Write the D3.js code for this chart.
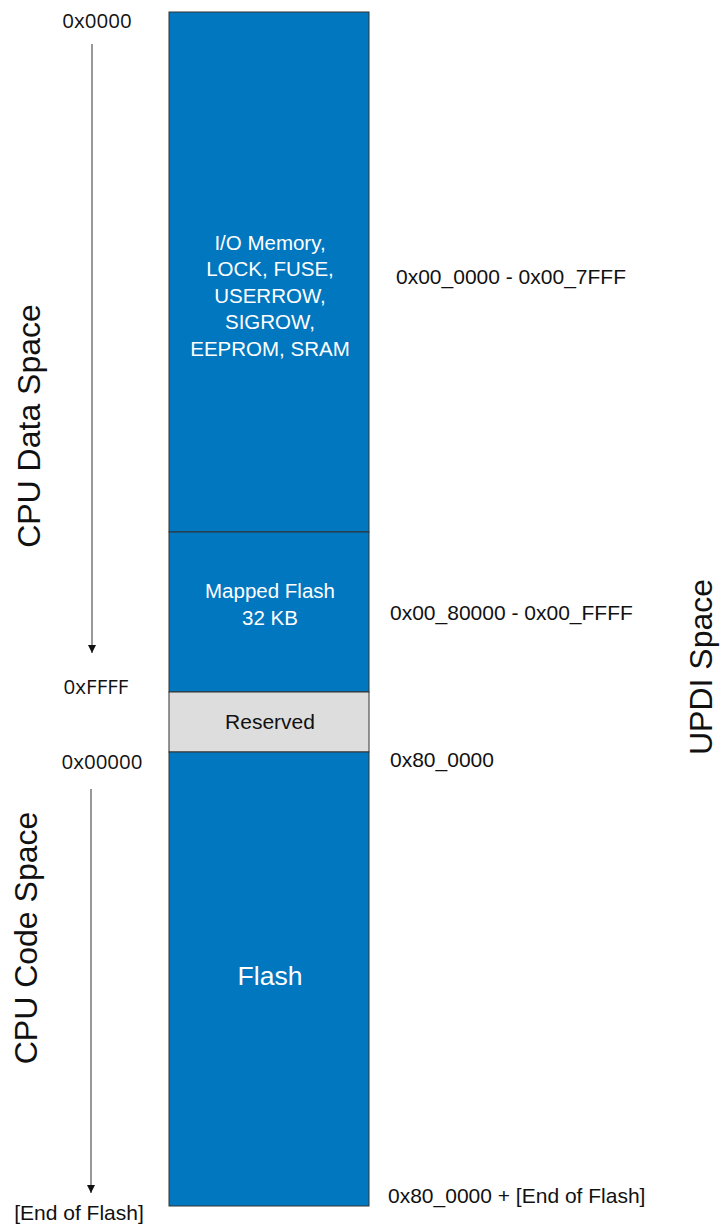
<!DOCTYPE html>
<html><head><meta charset="utf-8">
<script src="https://cdn.jsdelivr.net/npm/d3@7"></script>
<style>body{margin:0;background:#fff}svg{display:block}</style>
</head><body>
<script>
// ---- data ----
const segments = ["io", "mapped", "reserved", "flash"];
const segmentSpan = [520, 160, 60, 454];          // relative extent of each region
const segmentLines = [
  ["I/O Memory,", "LOCK, FUSE,", "USERROW,", "SIGROW,", "EEPROM, SRAM"],
  ["Mapped Flash", "32 KB"],
  ["Reserved"],
  ["Flash"]
];
const segmentFill = ["#0077BF", "#0077BF", "#DDDDDD", "#0077BF"];
const updiLabels = ["0x00_0000 - 0x00_7FFF", "0x00_80000 - 0x00_FFFF", "0x80_0000", "0x80_0000 + [End of Flash]"];
const cpuDataLabels = ["0x0000", "0xFFFF"];
const cpuCodeLabels = ["0x00000", "[End of Flash]"];
const spaceTitles = ["CPU Data Space", "CPU Code Space", "UPDI Space"];

const W = 721, H = 1224;
const svg = d3.select("body").append("svg").attr("width", W).attr("height", H);

const total = d3.sum(segmentSpan);
const starts = d3.cumsum([0, ...segmentSpan]);
const y = d3.scaleLinear().domain([0, total]).range([12, 1206]);
const x0 = 169, x1 = 369, cx = (x0 + x1) / 2;

// segments
const g = svg.append("g");
segments.forEach((s, i) => {
  const top = y(starts[i]), bot = y(starts[i + 1]);
  g.append("rect").attr("x", x0).attr("y", top).attr("width", x1 - x0).attr("height", bot - top)
    .attr("fill", segmentFill[i]).attr("stroke", "#333").attr("stroke-width", 1);
});
// text inside segments
const textFont = "'Liberation Sans', Arial, sans-serif";
const lineH = [26.5, 27, 0, 0];
const fsize = [20.5, 20.5, 21, 26.5];
segments.forEach((s, i) => {
  const mid = (y(starts[i]) + y(starts[i + 1])) / 2;
  const lines = segmentLines[i];
  let midY = mid;
  if (i === 0) midY = y(starts[0]) + 283; // block text sits slightly above centre
  if (i === 1) midY = y(starts[1]) + 72;
  if (i === 2) midY = mid - 1;
  if (i === 3) midY = y(starts[3]) + 224;
  const n = lines.length;
  lines.forEach((t, k) => {
    svg.append("text").attr("x", cx + 1).attr("y", midY + (k - (n - 1) / 2) * lineH[i])
      .attr("text-anchor", "middle").attr("dominant-baseline", "central")
      .attr("font-family", textFont).attr("font-size", fsize[i])
      .attr("fill", segmentFill[i] === "#DDDDDD" ? "#111" : "#fff").text(t);
  });
});

// UPDI labels on right
const updiX = [396, 390, 390, 388];
const updiY = [276, 612, 759, 1195];
updiLabels.forEach((t, i) => {
  svg.append("text").attr("x", updiX[i]).attr("y", updiY[i]).attr("dominant-baseline", "central")
    .attr("font-family", textFont).attr("font-size", 21).attr("fill", "#111").text(t);
});

// left addresses and arrows
const defs = svg.append("defs");
defs.append("marker").attr("id", "ah").attr("viewBox", "0 0 10 10").attr("refX", 10).attr("refY", 5)
  .attr("markerWidth", 8).attr("markerHeight", 8).attr("markerUnits", "userSpaceOnUse").attr("orient", "auto")
  .append("path").attr("d", "M0,0L10,5L0,10Z").attr("fill", "#111");

const addrFont = "'Open Sans', 'DejaVu Sans', sans-serif";
svg.append("text").attr("x", 97).attr("y", 20).attr("text-anchor", "middle").attr("dominant-baseline", "central")
  .attr("font-family", addrFont).attr("font-size", 20.5).attr("fill", "#111").text(cpuDataLabels[0]);
svg.append("text").attr("x", 96).attr("y", 686).attr("text-anchor", "middle").attr("dominant-baseline", "central")
  .attr("font-family", addrFont).attr("font-size", 20.5).attr("fill", "#111").text(cpuDataLabels[1]);
svg.append("text").attr("x", 102).attr("y", 761).attr("text-anchor", "middle").attr("dominant-baseline", "central")
  .attr("font-family", addrFont).attr("font-size", 20.5).attr("fill", "#111").text(cpuCodeLabels[0]);
svg.append("text").attr("x", 79).attr("y", 1212).attr("text-anchor", "middle").attr("dominant-baseline", "central")
  .attr("font-family", textFont).attr("font-size", 21).attr("fill", "#111").text(cpuCodeLabels[1]);

svg.append("line").attr("x1", 92).attr("y1", 44).attr("x2", 92).attr("y2", 653)
  .attr("stroke", "#333").attr("stroke-width", 1).attr("marker-end", "url(#ah)");
svg.append("line").attr("x1", 91).attr("y1", 789).attr("x2", 91).attr("y2", 1193)
  .attr("stroke", "#333").attr("stroke-width", 1).attr("marker-end", "url(#ah)");

// rotated titles
const titles = [[29, 426], [26, 938], [701, 667]];
spaceTitles.forEach((t, i) => {
  svg.append("text").attr("transform", `translate(${titles[i][0]},${titles[i][1]}) rotate(-90)`)
    .attr("text-anchor", "middle").attr("dominant-baseline", "central")
    .attr("font-family", textFont).attr("font-size", 32).attr("fill", "#111").text(t);
});
</script>
</body></html>
